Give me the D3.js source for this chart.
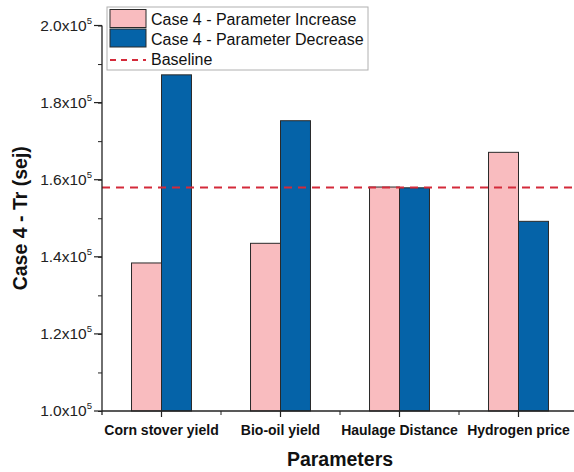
<!DOCTYPE html>
<html>
<head>
<meta charset="utf-8">
<script src="https://cdn.jsdelivr.net/npm/d3@7"></script>
<style>
  html, body { margin: 0; padding: 0; background: #fff; }
  svg { display: block; font-family: Arial, "Liberation Sans", sans-serif; }
</style>
</head>
<body>
<svg id="chart" width="574" height="472"></svg>
<script>
// ─── data ────────────────────────────────────────────────────────────────
const categories   = ['Corn stover yield', 'Bio-oil yield', 'Haulage Distance', 'Hydrogen price'];
const seriesNames  = ['Case 4 - Parameter Increase', 'Case 4 - Parameter Decrease'];
const increaseVals = [138400, 143500, 158100, 167100];
const decreaseVals = [187200, 175300, 157900, 149200];
const baselineVal  = 158000;
const yTicks       = [100000, 120000, 140000, 160000, 180000, 200000];
const yTickLabels  = ['1.0', '1.2', '1.4', '1.6', '1.8', '2.0'];
const seriesColors = ['#f9bcbf', '#0563a8'];

// ─── layout ──────────────────────────────────────────────────────────────
const svg = d3.select('#chart');
const plotL = 102, plotR = 578, plotT = 25.5, plotB = 411;

const x  = d3.scaleBand().domain(categories).range([plotL, plotR]).padding(0);
const bw = x.bandwidth() * 0.252;
const x1 = d3.scaleBand().domain(seriesNames).range([-bw, bw]).padding(0);
const y  = d3.scaleLinear().domain([100000, 200000]).range([plotB, plotT]);

const rows = categories.map((c, i) => ({ cat: c, vals: [increaseVals[i], decreaseVals[i]] }));

// bars
const g = svg.append('g');
g.selectAll('g.grp').data(rows).enter().append('g')
  .attr('class', 'grp')
  .attr('transform', d => `translate(${x(d.cat) + x.bandwidth() / 2},0)`)
  .selectAll('rect').data(d => d.vals.map((v, k) => ({ v, k }))).enter()
  .append('rect')
  .attr('x', d => x1(seriesNames[d.k]))
  .attr('y', d => y(d.v))
  .attr('width', x1.bandwidth())
  .attr('height', d => y(100000) - y(d.v))
  .attr('fill', d => seriesColors[d.k])
  .attr('stroke', '#2a2a2a').attr('stroke-width', 1);

// baseline
svg.append('line')
  .attr('x1', plotL).attr('x2', 574)
  .attr('y1', y(baselineVal)).attr('y2', y(baselineVal))
  .attr('stroke', '#d42a3a').attr('stroke-width', 2)
  .attr('stroke-dasharray', '8,6');

// y axis
const yAxis = svg.append('g').attr('transform', `translate(${plotL},0)`);
yAxis.call(d3.axisLeft(y).tickValues(d3.range(100000, 200001, 10000)).tickSize(4).tickFormat(''))
  .call(s => s.select('.domain').remove());
yAxis.selectAll('.tick line').attr('stroke', '#222');
yAxis.append('line').attr('x1', 0).attr('x2', 0).attr('y1', plotT).attr('y2', plotB + 4)
  .attr('stroke', '#222').attr('stroke-width', 1.3);
const yMaj = yAxis.selectAll('g.maj').data(yTicks).enter().append('g')
  .attr('class', 'maj').attr('transform', d => `translate(0,${y(d)})`);
yMaj.append('line').attr('x1', -8).attr('x2', 0).attr('stroke', '#222').attr('stroke-width', 1.2);
const yt = yMaj.append('text')
  .attr('x', -10).attr('dy', '0.35em')
  .attr('text-anchor', 'end')
  .attr('font-size', 15.5).attr('fill', '#222');
yt.append('tspan').text((d, i) => yTickLabels[i] + 'x10');
yt.append('tspan').attr('dy', -7).attr('font-size', 9.5).text('5');

// x axis
const xAxis = svg.append('g').attr('transform', `translate(0,${plotB})`);
xAxis.append('line').attr('x1', plotL).attr('x2', 574).attr('y1', 0).attr('y2', 0)
  .attr('stroke', '#222').attr('stroke-width', 1.3);
xAxis.selectAll('line.maj').data(categories).enter().append('line')
  .attr('class', 'maj')
  .attr('x1', d => x(d) + x.bandwidth() / 2).attr('x2', d => x(d) + x.bandwidth() / 2)
  .attr('y1', 0).attr('y2', 6).attr('stroke', '#222').attr('stroke-width', 1.2);
xAxis.selectAll('line.min').data(categories.slice(1)).enter().append('line')
  .attr('class', 'min')
  .attr('x1', d => x(d)).attr('x2', d => x(d))
  .attr('y1', 0).attr('y2', 4).attr('stroke', '#222');
xAxis.selectAll('text').data(categories).enter().append('text')
  .attr('x', d => x(d) + x.bandwidth() / 2).attr('y', 24)
  .attr('text-anchor', 'middle')
  .attr('font-size', 14).attr('font-weight', 'bold').attr('fill', '#111')
  .text(d => d);

// titles
svg.append('text')
  .attr('x', (plotL + plotR) / 2).attr('y', 466)
  .attr('text-anchor', 'middle')
  .attr('font-size', 19.5).attr('font-weight', 'bold').attr('fill', '#111')
  .text('Parameters');
svg.append('text')
  .attr('transform', `translate(27,${(plotT + plotB) / 2}) rotate(-90)`)
  .attr('text-anchor', 'middle')
  .attr('font-size', 19.5).attr('font-weight', 'bold').attr('fill', '#111')
  .text('Case 4 - Tr (sej)');

// legend
const lg = svg.append('g');
lg.append('rect').attr('x', 107).attr('y', 7).attr('width', 261).attr('height', 63)
  .attr('fill', '#fff').attr('stroke', '#b0b0b0').attr('stroke-width', 1);
seriesNames.forEach((name, i) => {
  lg.append('rect').attr('x', 110).attr('y', 9.5 + i * 19.5).attr('width', 36).attr('height', 18)
    .attr('fill', seriesColors[i]).attr('stroke', '#2a2a2a').attr('stroke-width', 1);
  lg.append('text').attr('x', 151).attr('y', 25 + i * 19.5)
    .attr('font-size', 16).attr('fill', '#111').text(name);
});
lg.append('line').attr('x1', 110).attr('x2', 146).attr('y1', 60).attr('y2', 60)
  .attr('stroke', '#d42a3a').attr('stroke-width', 2).attr('stroke-dasharray', '6,5');
lg.append('text').attr('x', 151).attr('y', 64.5)
  .attr('font-size', 16).attr('fill', '#111').text('Baseline');
</script>
</body>
</html>
